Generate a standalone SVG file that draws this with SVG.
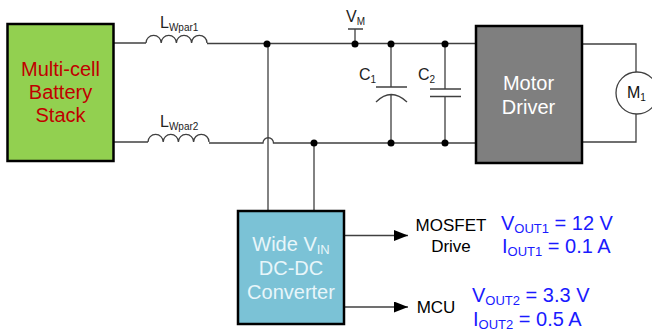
<svg xmlns="http://www.w3.org/2000/svg" width="652" height="332" viewBox="0 0 652 332">
<style>
text{font-family:"Liberation Sans",Arial,sans-serif}
.w{fill:none;stroke:#404040;stroke-width:1.3}
.b{stroke:#000;stroke-width:2.5}
.d{fill:#000}
.t{font-size:20px;text-anchor:middle}
.l{font-size:16px;fill:#222}
.v{font-size:20px;fill:#1a1aff}
.k{font-size:17px;fill:#000;text-anchor:middle}
</style>
<defs>
<marker id="a" markerUnits="userSpaceOnUse" markerWidth="15" markerHeight="12" refX="14" refY="5.5" orient="auto"><path d="M0 0L14 5.5L0 11Z" fill="#000"/></marker>
<path id="coil" d="M0 0A7.6 7.6 0 0 1 15.2 0A7.6 7.6 0 0 1 30.4 0A7.6 7.6 0 0 1 45.6 0A7.6 7.6 0 0 1 61 0"/>
</defs>
<g id="connectors">
<path class="w" d="M113 43H146"/>
<use href="#coil" class="w" x="146" y="43"/>
<path class="w" d="M207 43.500H476"/>
<path class="w" d="M113 142H148"/>
<use href="#coil" class="w" x="148" y="142"/>
<path class="w" d="M209 143H263A5 5 0 0 1 273.500 143H476"/>
<path class="w" d="M268 44V211M314 143V211"/>
<path class="w" d="M355 44V29M348 29H363"/>
<path class="w" d="M391 44V87M376 87H407M376 102Q391 87 407 102M391 95V143"/>
<path class="w" d="M445 44V89M430 89H461M430 96.500H461M445 96.500V143"/>
<path class="w" d="M582 44H636V72M636 114V142H582"/>
<path class="w" d="M344 235.500H408" marker-end="url(#a)"/>
<path class="w" d="M344 307H408" marker-end="url(#a)"/>
<circle class="d" cx="267" cy="44" r="3.500"/><circle class="d" cx="314" cy="143" r="3.500"/>
<circle class="d" cx="355" cy="44" r="3.500"/><circle class="d" cx="391" cy="44" r="3.500"/>
<circle class="d" cx="445" cy="44" r="3.500"/><circle class="d" cx="391" cy="143" r="3.500"/>
<circle class="d" cx="445" cy="143" r="3.500"/>
</g>
<g id="battery"><rect class="b" x="7.500" y="24" width="106" height="137" fill="#92d050"/>
<text class="t" fill="#c00000" x="60.500" y="76">Multi-cell</text><text class="t" fill="#c00000" x="60.500" y="99">Battery</text><text class="t" fill="#c00000" x="60.500" y="122">Stack</text></g>
<g id="driver"><rect class="b" x="476" y="26" width="106" height="137" fill="#7f7f7f"/>
<text class="t" fill="#fff" x="528.500" y="90">Motor</text><text class="t" fill="#fff" x="528.500" y="114">Driver</text></g>
<g id="converter"><rect class="b" x="238" y="211" width="106" height="113" fill="#7bc2d6"/>
<text class="t" fill="#e8f6fa" x="291" y="251">Wide V<tspan font-size="13" dy="3">IN</tspan></text><text class="t" fill="#e8f6fa" x="291" y="275">DC-DC</text><text class="t" fill="#e8f6fa" x="291" y="299">Converter</text></g>
<g id="motor"><circle cx="637" cy="93" r="21" fill="#fff" stroke="#404040" stroke-width="1.3"/>
<text x="627" y="98" font-size="16" fill="#111">M<tspan font-size="10" dy="3">1</tspan></text></g>
<g id="labels">
<text class="l" x="160" y="28">L<tspan font-size="10" dy="3">Wpar1</tspan></text>
<text class="l" x="160" y="127">L<tspan font-size="10" dy="3">Wpar2</tspan></text>
<text class="l" x="346" y="22">V<tspan font-size="10" dy="3">M</tspan></text>
<text class="l" x="359" y="80">C<tspan font-size="10" dy="3">1</tspan></text>
<text class="l" x="418" y="80">C<tspan font-size="10" dy="3">2</tspan></text>
<text class="k" x="451" y="231">MOSFET</text><text class="k" x="451" y="252">Drive</text>
<text class="k" x="436" y="313">MCU</text>
<text class="v" x="501" y="230">V<tspan font-size="13" dy="3">OUT1</tspan><tspan dy="-3"> = 12 V</tspan></text>
<text class="v" x="502" y="253">I<tspan font-size="13" dy="3">OUT1</tspan><tspan dy="-3"> = 0.1 A</tspan></text>
<text class="v" x="472" y="302">V<tspan font-size="13" dy="3">OUT2</tspan><tspan dy="-3"> = 3.3 V</tspan></text>
<text class="v" x="473" y="326">I<tspan font-size="13" dy="3">OUT2</tspan><tspan dy="-3"> = 0.5 A</tspan></text>
</g>
</svg>
